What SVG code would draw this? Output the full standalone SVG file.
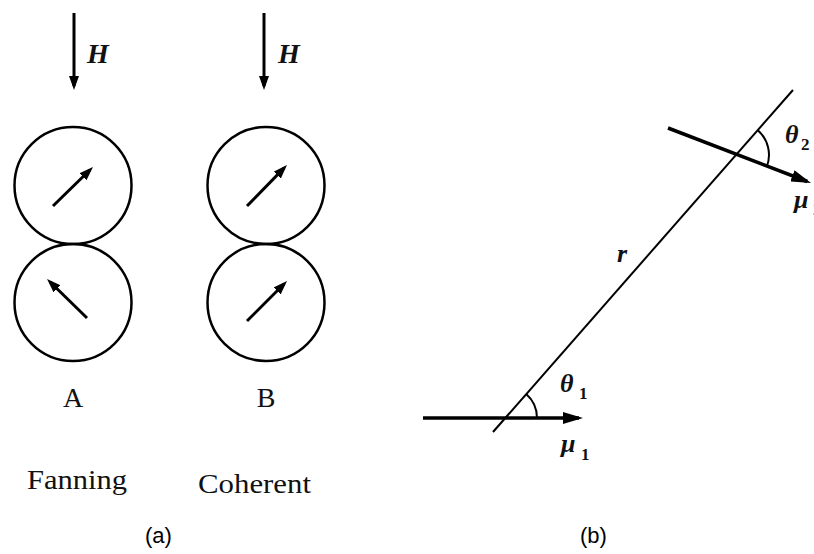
<svg xmlns="http://www.w3.org/2000/svg" width="814" height="554" viewBox="0 0 814 554">
<style>
.circ{fill:none;stroke:#000;stroke-width:2.5}
.arr{fill:none;stroke:#000;stroke-width:3;marker-end:url(#head)}
.barr{fill:none;stroke:#000;stroke-width:3.5;marker-end:url(#bighead)}
.thin{fill:none;stroke:#000;stroke-width:2}
.arc{fill:none;stroke:#000;stroke-width:2}
.serif{font-family:"Liberation Serif","Times New Roman",serif;fill:#111}
.ital{font-family:"Liberation Serif","Times New Roman",serif;font-style:italic;fill:#111}
.sym{font-family:"Liberation Serif","Times New Roman",serif;font-style:italic;font-weight:bold;font-size:26px;fill:#111}
.sub{font-family:"Liberation Serif","Times New Roman",serif;font-weight:bold;font-size:17px;fill:#111}
.cap{font-family:"Liberation Sans",Arial,sans-serif;font-size:22px;fill:#000}
</style>
<defs>
<marker id="head" markerUnits="userSpaceOnUse" markerWidth="14" markerHeight="10" refX="10" refY="5" orient="auto">
<path d="M0,0 L14,5 L0,10 z" fill="#000"/>
</marker>
<marker id="bighead" markerUnits="userSpaceOnUse" markerWidth="20" markerHeight="12" refX="16" refY="6" orient="auto">
<path d="M0,0 L20,6 L0,12 z" fill="#000"/>
</marker>
</defs>
<rect width="814" height="554" fill="#fff"/>

<g id="panel-a">
<g id="field-A">
<line class="arr" x1="74" y1="13" x2="74" y2="86"/>
<text class="ital" x="87" y="63" font-size="28" font-weight="bold">H</text>
</g>
<g id="field-B">
<line class="arr" x1="264" y1="13" x2="264" y2="86"/>
<text class="ital" x="278" y="63" font-size="28" font-weight="bold">H</text>
</g>
<g id="A-top">
<circle class="circ" cx="73" cy="185.5" r="58.5"/>
<line class="arr" x1="53" y1="206" x2="90.1" y2="169.8"/>
</g>
<g id="A-bottom">
<circle class="circ" cx="73" cy="302.5" r="58.5"/>
<line class="arr" x1="87" y1="318" x2="49.9" y2="281.8"/>
</g>
<g id="B-top">
<circle class="circ" cx="266" cy="185.5" r="58.5"/>
<line class="arr" x1="247" y1="206" x2="284.2" y2="167.9"/>
</g>
<g id="B-bottom">
<circle class="circ" cx="266" cy="302.5" r="58.5"/>
<line class="arr" x1="247" y1="321" x2="284.2" y2="283.8"/>
</g>
<text class="serif" x="73" y="407" font-size="28" text-anchor="middle">A</text>
<text class="serif" x="266" y="407" font-size="28" text-anchor="middle">B</text>
<text class="serif" x="27" y="489" font-size="28" textLength="100" lengthAdjust="spacingAndGlyphs">Fanning</text>
<text class="serif" x="198" y="493" font-size="28" textLength="113" lengthAdjust="spacingAndGlyphs">Coherent</text>
<text class="cap" x="145" y="543">(a)</text>
</g>

<g id="panel-b">
<g id="connectors">
<line class="thin" x1="493" y1="432" x2="793" y2="90"/>
<line class="barr" x1="423" y1="418" x2="579" y2="418"/>
<line class="barr" x1="668" y1="128" x2="807.3" y2="181.5"/>
<path class="arc" d="M537,418 A32,32 0 0 0 526.2,394"/>
<path class="arc" d="M757.8,130.2 A33,33 0 0 1 766.7,167"/>
</g>
<g id="labels-b">
<text class="sym" x="617" y="262" font-weight="normal" font-size="24">r</text>
<text class="sym" x="560" y="392">θ</text>
<text class="sub" x="579" y="399">1</text>
<text class="sym" x="561" y="452">μ</text>
<text class="sub" x="581" y="460">1</text>
<text class="sym" x="785" y="143">θ</text>
<text class="sub" x="801" y="150">2</text>
<text class="sym" x="794" y="208">μ</text>
<text class="sub" x="813" y="215">2</text>
</g>
<text class="cap" x="580" y="543">(b)</text>
</g>
</svg>
